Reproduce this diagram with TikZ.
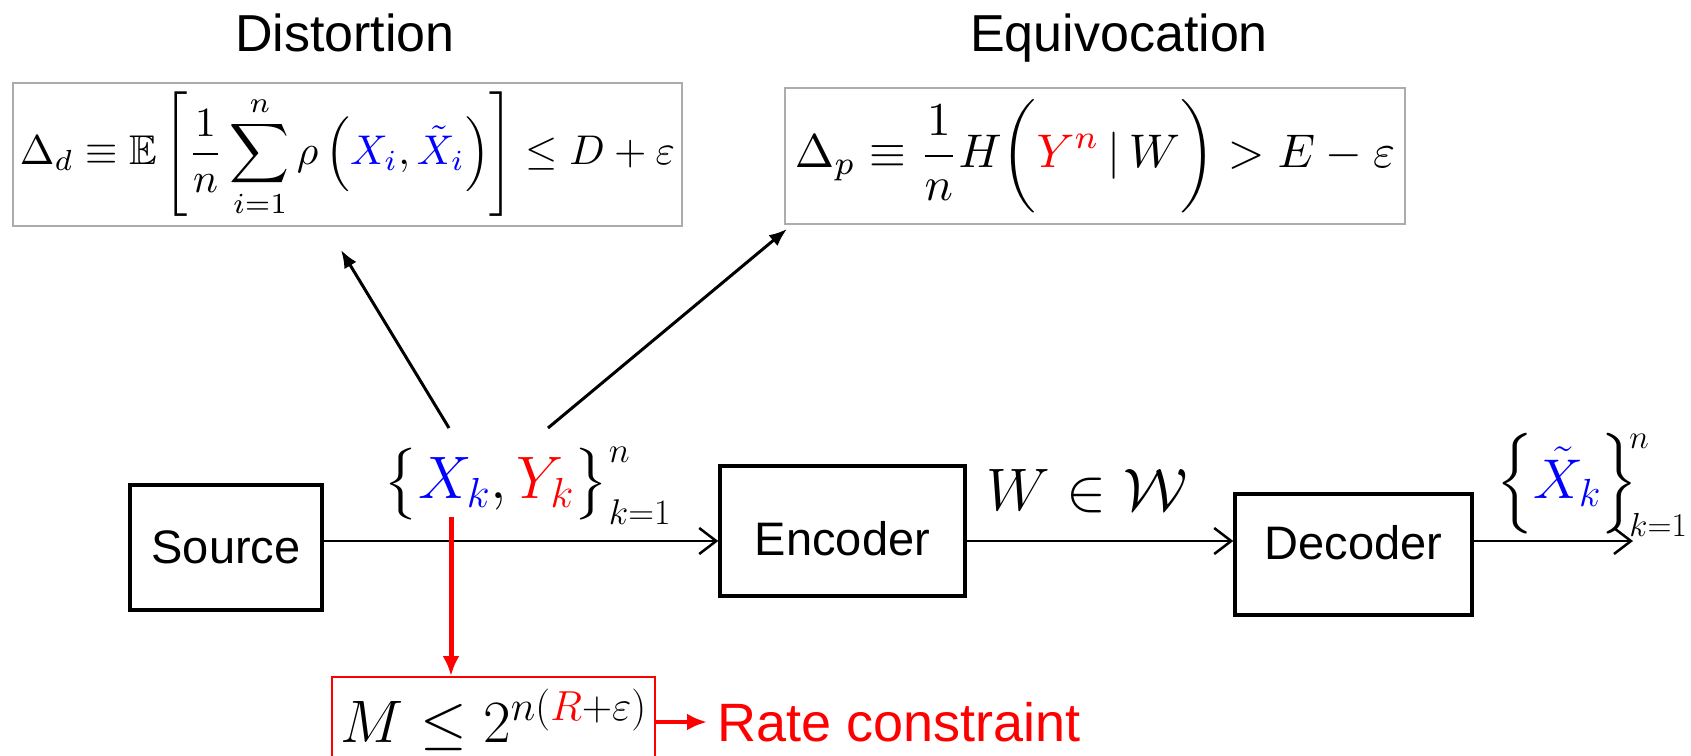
\documentclass[tikz,border=0pt]{standalone}
\usepackage{fix-cm}
\usepackage{amssymb}
\usepackage{fontspec}
\newfontfamily\arial{Liberation Sans}
\usetikzlibrary{arrows.meta}
\newcommand{\bracestrut}{\vrule height53pt depth23pt width0pt}
\newcommand{\smallscript}[1]{\scalebox{0.85}{$\scriptstyle #1$}}
\tikzset{
  block/.style={draw, line width=3.5pt, font=\arial\fontsize{47}{56}\selectfont},
  formbox/.style={draw=gray!65, line width=2pt, inner sep=0pt},
  rbox/.style={draw=red, line width=2pt, inner sep=0pt, font=\fontsize{60}{72}\selectfont},
  title/.style={anchor=base, font=\arial\fontsize{52}{62}\selectfont},
  big/.style={inner sep=0pt, font=\fontsize{60}{72}\selectfont},
  link/.style={line width=2pt, -{Straight Barb[length=17pt,width=26pt,line width=2.5pt]}},
  darrow/.style={line width=3pt, -{Latex[length=18pt,width=14pt]}},
  rarrow/.style={red, line width=5pt, -{Latex[length=20pt,width=17pt]}},
}
\begin{document}
\begin{tikzpicture}[x=1pt,y=-1pt]
  \useasboundingbox (0,0) rectangle (1691,755);

  % Titel
  \node[title] (dtitle) at (345,51) {Distortion};
  \node[title] (etitle) at (1119,51) {Equivocation};

  % Formelkaesten
  \node[formbox, minimum width=669, minimum height=143] (dist) at (347.5,154.5)
    {\resizebox{655pt}{!}{$\displaystyle \Delta_d \equiv \mathbb{E}\left[\frac{1}{n}\sum_{i=1}^{n}\rho\left({\color{blue}X_i},{\color{blue}\tilde{X}_i}\right)\right]\le D+\varepsilon$}};
  \node[formbox, minimum width=620, minimum height=136] (equi) at (1095,156)
    {\resizebox{600pt}{!}{$\displaystyle \Delta_p \equiv \frac{1}{n}H\biggl({\color{red}Y^n}\,|\,W\biggr) > E-\varepsilon$}};

  % Bloecke
  \node[block, minimum width=192, minimum height=125] (src) at (226,547.5) {Source};
  \node[block, minimum width=245, minimum height=130, text height=50pt] (enc) at (842.5,531) {Encoder};
  \node[block, minimum width=237, minimum height=121, text depth=25pt] (dec) at (1353.5,554.5) {Decoder};

  % Hauptleitung
  \coordinate (mid) at (0,541);
  \coordinate (out) at (1633,541);
  \draw[link] (src.east |- mid) -- (enc.west |- mid);
  \draw[link] (enc.east |- mid) -- (dec.west |- mid);
  \draw[link] (dec.east |- mid) -- (out);

  % Beschriftungen
  \node[big, anchor=west] (xy) at (383,485)
    {$\left\{\bracestrut{\color{blue}X_k},{\color{red}Y_k}\right\}_{\smallscript{k=1}}^{\smallscript{n}}$};
  \node[big] (w) at (1087,491) {$W\in\mathcal{W}$};
  \node[big, anchor=west, font=\fontsize{56}{67}\selectfont] (xt) at (1496,485)
    {$\left\{{\color{blue}\tilde{X}_k}\right\}_{\mkern-4mu\smallscript{k=1}}^{\mkern-4mu\smallscript{n}}$};

  % Pfeile zu den Kaesten
  \coordinate (dfrom) at (449,428);
  \coordinate (dto) at (341,250);
  \coordinate (efrom) at (548,428);
  \coordinate (eto) at (787,229);
  \draw[darrow] (dfrom) -- (dto);
  \draw[darrow] (efrom) -- (eto);

  % Ratenbedingung
  \node[rbox, minimum width=323, minimum height=86] (rate) at (493.5,720) {$M\le 2^{n({\color{red}R}+\varepsilon)}$};
  \coordinate (xk) at (451,517);
  \draw[rarrow] (xk) -- (xk |- rate.north);
  \node[red, anchor=west, inner sep=0pt, font=\arial\fontsize{54}{64}\selectfont] (rc) at (717,722) {Rate constraint};
  \draw[rarrow, line width=4pt] (rate.east |- rc.west) -- ([xshift=-10pt]rc.west);
\end{tikzpicture}
\end{document}
